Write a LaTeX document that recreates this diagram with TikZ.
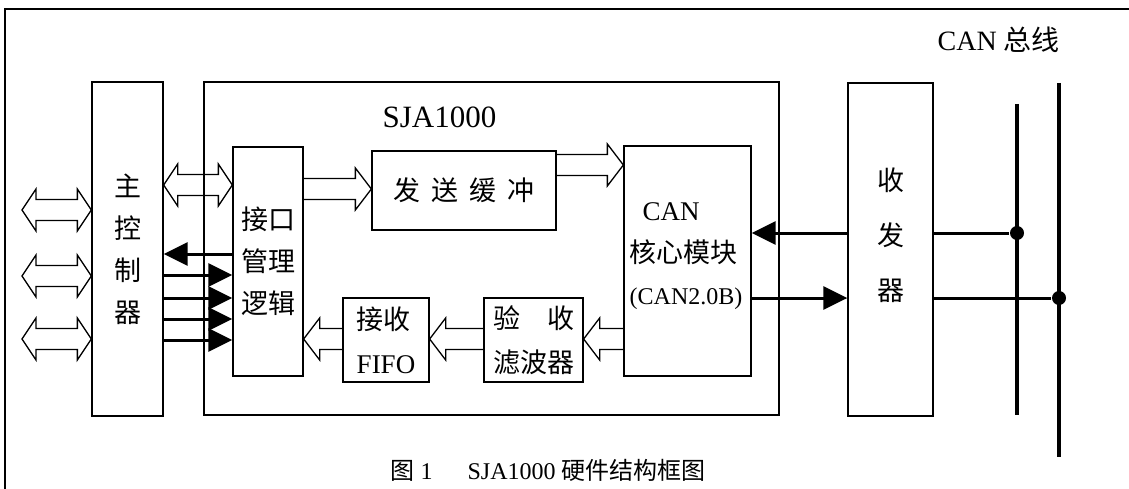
\documentclass[tikz,border=0pt]{standalone}
\usepackage{fontspec}
\setmainfont{Liberation Serif}
\newfontfamily\cjk{Noto Sans CJK SC}
\usetikzlibrary{arrows.meta, calc}

\begin{document}
\begin{tikzpicture}[x=1pt, y=-1pt, line width=1.3pt]
        \tikzset{box/.style={draw, line width=1.3pt, inner sep=0pt},
                 zh/.style={font=\fontsize{27}{42}\selectfont\cjk, align=center},
                 sig/.style={line width=3pt, -{Triangle[length=24pt,width=23pt]}},
                 bus/.style={line width=3.5pt},
                 dot/.style={circle, fill, inner sep=0pt, minimum size=14pt},
                 txt/.style={inner sep=0pt}}
        % hollow (outlined) bus arrows
        \tikzset{hollow/.style={to path={let \p1=(\tikztostart), \p2=(\tikztotarget),
                   \n1={ifthenelse(\x2>\x1,1,-1)} in
                   (\x1,\y1+10.5pt) -- (\x2-\n1*16pt,\y1+10.5pt) -- (\x2-\n1*16pt,\y1+21pt)
                   -- (\x2,\y1) -- (\x2-\n1*16pt,\y1-21pt) -- (\x2-\n1*16pt,\y1-10.5pt)
                   -- (\x1,\y1-10.5pt)}},
                 hollowboth/.style={to path={let \p1=(\tikztostart), \p2=(\tikztotarget),
                   \n1={ifthenelse(\x2>\x1,1,-1)} in
                   (\x1,\y1) -- (\x1+\n1*14pt,\y1+21pt) -- (\x1+\n1*14pt,\y1+10.5pt)
                   -- (\x2-\n1*14pt,\y1+10.5pt) -- (\x2-\n1*14pt,\y1+21pt) -- (\x2,\y1)
                   -- (\x2-\n1*14pt,\y1-21pt) -- (\x2-\n1*14pt,\y1-10.5pt)
                   -- (\x1+\n1*14pt,\y1-10.5pt) -- (\x1+\n1*14pt,\y1-21pt) -- cycle}}}

        \useasboundingbox (0,0) rectangle (1129,489);
        \draw (5,489) -- (5,9) -- (1129,9);

        \node[box, zh, minimum width=71pt, minimum height=334pt] (ctrl) at (127.5,249) {主\\控\\制\\器};
        \node[box, minimum width=575pt, minimum height=333pt] (chip) at (491.5,248.5) {};
        \node[txt, font=\fontsize{31}{31}\selectfont] (chipname) at (439.5,117) {SJA1000};
        \node[box, zh, minimum width=70pt, minimum height=229pt] (iface) at (268,261.5) {接口\\管理\\逻辑};
        \node[box, zh, minimum width=184pt, minimum height=79pt] (txbuf) at (464,190.5) {发\hspace{11pt}送\hspace{11pt}缓\hspace{11pt}冲};
        \node[box, minimum width=127pt, minimum height=230pt] (core) at (687.5,261) {};
        \node[txt, font=\fontsize{27}{42}\selectfont, align=left] (coretext) at (686,256)
            {\hspace*{13pt}CAN\\{\cjk 核心模块}\\{\fontsize{24}{24}\selectfont (CAN2.0B)}};
        \node[box, font=\fontsize{27}{44}\selectfont, align=left, minimum width=86pt, minimum height=84pt] (fifo) at (386,340) {{\cjk 接收}\\FIFO};
        \node[box, font=\fontsize{27}{44}\selectfont\cjk, align=center, minimum width=99pt, minimum height=84pt] (filter) at (533.5,340) {验　收\\滤波器};
        \node[box, minimum width=85pt, minimum height=333pt] (txr) at (890.5,249.5) {};
        \node[txt, font=\fontsize{27}{55}\selectfont\cjk, align=center] (txrtext) at (890.5,235) {收\\发\\器};

        % external buses of the host controller
        \foreach \y [count=\i] in {210,276,339} {
            \coordinate (ext\i) at (22,\y);
            \draw[hollowboth] (ext\i) to (ctrl.west |- ext\i);
        }
        \draw[hollowboth] (ctrl.east |- 0,185) to (iface.west |- 0,185);
        \draw[hollow] (iface.east |- 0,189) to (txbuf.west |- 0,189);
        \draw[hollow] (txbuf.east |- 0,165) to (core.west |- 0,165);
        \draw[hollow] (core.west |- 0,339) to (filter.east |- 0,339);
        \draw[hollow] (filter.west |- 0,339) to (fifo.east |- 0,339);
        \draw[hollow] (fifo.west |- 0,339) to (iface.east |- 0,339);

        % control lines
        \draw[sig] (iface.west |- 0,254) -- (ctrl.east |- 0,254);
        \foreach \y in {275,298,319,340}
            \draw[sig] (ctrl.east |- 0,\y) -- (iface.west |- 0,\y);
        \draw[sig] (txr.west |- 0,233) -- (core.east |- 0,233);
        \draw[sig] (core.east |- 0,298) -- (txr.west |- 0,298);

        % CAN bus
        \coordinate (busA1) at (1017,104);
        \coordinate (busA2) at (1017,415);
        \coordinate (busB1) at (1059,83);
        \coordinate (busB2) at (1059,457);
        \draw[bus] (busA1) -- (busA2);
        \draw[bus] (busB1) -- (busB2);
        \node[dot] (jA) at (busA1 |- 0,233) {};
        \node[dot] (jB) at (busB1 |- 0,298) {};
        \draw[line width=3pt] (txr.east |- jA) -- (jA);
        \draw[line width=3pt] (txr.east |- jB) -- (jB);
        \node[txt, anchor=west, font=\fontsize{28}{28}\selectfont] (buslabel) at (937,40) {CAN {\cjk 总线}};

        \node[txt, anchor=west, font=\fontsize{24}{24}\selectfont] (caption) at (390,470)
            {{\cjk 图} 1\hspace{35pt}SJA1000 {\cjk 硬件结构框图}};
    \end{tikzpicture}
\end{document}
